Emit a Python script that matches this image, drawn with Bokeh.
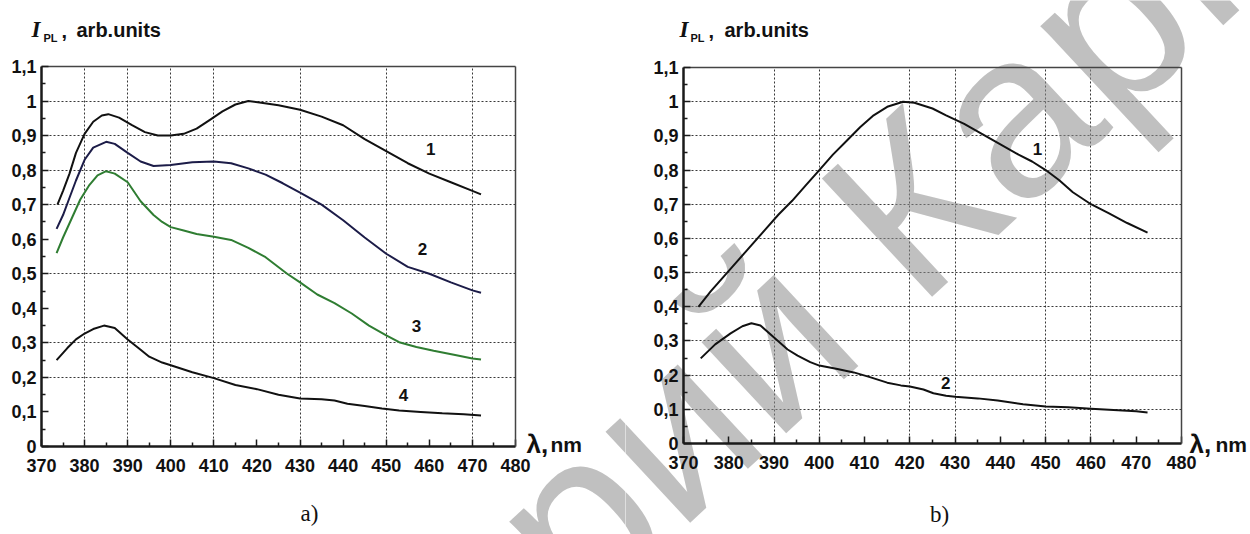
import math
from bokeh.plotting import figure
from bokeh.models import Label, FixedTicker, CustomJSTickFormatter, Range1d, LinearAxis
from bokeh.layouts import row
from bokeh.embed import file_html
from bokeh.resources import INLINE

# ---------------- data ----------------
x_tick_values = [370, 380, 390, 400, 410, 420, 430, 440, 450, 460, 470, 480]
x_tick_labels = ["370", "380", "390", "400", "410", "420", "430", "440", "450", "460", "470", "480"]
y_tick_values = [0, 0.1, 0.2, 0.3, 0.4, 0.5, 0.6, 0.7, 0.8, 0.9, 1.0, 1.1]
y_tick_labels = ["0", "0,1", "0,2", "0,3", "0,4", "0,5", "0,6", "0,7", "0,8", "0,9", "1", "1,1"]

grid_x_a = [380, 390, 400, 410, 430, 450, 470]
grid_y_a = [0.2, 0.3, 0.5, 0.7, 0.8, 0.9, 1.0]
grid_x_b = [390, 400, 420, 430, 450, 460]
grid_y_b = [0.1, 0.2, 0.3, 0.4, 0.5, 0.6, 0.7, 0.8, 0.9, 1.0]

# panel a
a1_x = [373.7, 375, 376.5, 378, 380, 382, 384, 385.5, 388, 391, 394, 397, 400, 403, 406, 409, 412, 415, 418, 421, 425, 430, 435, 440, 445, 450, 455, 460, 465, 470, 472]
a1_y = [0.70, 0.74, 0.79, 0.85, 0.905, 0.94, 0.958, 0.962, 0.952, 0.93, 0.91, 0.90, 0.90, 0.905, 0.92, 0.945, 0.97, 0.99, 1.0, 0.995, 0.988, 0.975, 0.955, 0.93, 0.89, 0.855, 0.82, 0.79, 0.765, 0.74, 0.73]

a2_x = [373.5, 375, 376.5, 378, 380, 382, 385, 387, 390, 393, 396, 400, 405, 410, 414, 418, 422, 426, 430, 435, 440, 445, 450, 455, 460, 465, 470, 472]
a2_y = [0.63, 0.67, 0.72, 0.77, 0.83, 0.865, 0.882, 0.876, 0.85, 0.825, 0.812, 0.815, 0.823, 0.825, 0.82, 0.805, 0.787, 0.762, 0.735, 0.70, 0.655, 0.605, 0.558, 0.52, 0.50, 0.475, 0.452, 0.445]

a3_x = [373.5, 375, 377, 379, 381, 383, 385, 387, 390, 393, 396, 398, 400, 403, 406, 410, 414, 418, 422, 427, 430, 434, 438, 442, 446, 450, 453, 457, 461, 466, 470, 472]
a3_y = [0.56, 0.605, 0.66, 0.715, 0.755, 0.785, 0.797, 0.79, 0.765, 0.71, 0.67, 0.65, 0.635, 0.625, 0.615, 0.607, 0.598, 0.575, 0.548, 0.50, 0.475, 0.44, 0.415, 0.385, 0.35, 0.322, 0.302, 0.288, 0.277, 0.265, 0.255, 0.252]

a4_x = [373.5, 376, 378, 380, 382, 384.5, 387, 390, 393, 395, 398, 400, 405, 410, 415, 420, 425, 430, 435, 438, 441, 445, 449, 453, 458, 463, 468, 472]
a4_y = [0.25, 0.285, 0.31, 0.327, 0.34, 0.35, 0.343, 0.31, 0.28, 0.26, 0.243, 0.235, 0.215, 0.198, 0.178, 0.166, 0.15, 0.139, 0.137, 0.133, 0.124, 0.117, 0.11, 0.104, 0.10, 0.096, 0.093, 0.09]

# panel b
b1_x = [373.3, 376, 380, 384, 388, 391, 394, 397, 400, 403, 406, 409, 412, 415, 418.5, 421, 425, 428, 432, 436, 440, 444, 447, 450, 453, 456, 460, 464, 468, 472.5]
b1_y = [0.40, 0.445, 0.505, 0.565, 0.625, 0.67, 0.71, 0.755, 0.80, 0.845, 0.885, 0.925, 0.96, 0.985, 1.0, 0.997, 0.98, 0.96, 0.935, 0.905, 0.875, 0.845, 0.825, 0.80, 0.77, 0.735, 0.70, 0.673, 0.645, 0.617]

b2_x = [373.8, 377, 380.4, 383, 385, 387, 390, 393, 395.2, 398, 400, 404, 407.6, 411, 415, 418, 420, 423, 425.2, 428, 430, 435, 439.4, 445, 450, 455, 460, 465, 470, 472.5]
b2_y = [0.249, 0.29, 0.322, 0.343, 0.352, 0.345, 0.31, 0.275, 0.257, 0.238, 0.228, 0.218, 0.208, 0.195, 0.178, 0.17, 0.167, 0.158, 0.147, 0.14, 0.137, 0.132, 0.126, 0.115, 0.108, 0.106, 0.102, 0.098, 0.094, 0.091]

curve_names_a = ["1", "2", "3", "4"]
curve_names_b = ["1", "2"]

SANS = "Liberation Sans"
SERIF = "Liberation Serif"

X_MIN, X_MAX = 370, 480
Y_MIN, Y_MAX = 0, 1.1
PAGE_H = 534


def conv(fl, fr, ft, fb):
    """page pixel -> data coordinates, given the page position of the axes box"""
    def f(px, py):
        return (X_MIN + (px - fl) * (X_MAX - X_MIN) / (fr - fl),
                Y_MIN + (fb - py) * (Y_MAX - Y_MIN) / (fb - ft))
    return f


def make_panel(x0, x1, box, gx, gy):
    fl, fr, ft, fb = box
    f = conv(fl, fr, ft, fb)
    xlo, yhi = f(x0, 0)
    xhi, ylo = f(x1, PAGE_H)
    p = figure(width=x1 - x0, height=PAGE_H,
               x_range=Range1d(xlo, xhi), y_range=Range1d(ylo, yhi),
               output_backend="svg", toolbar_location=None,
               min_border=0, min_border_left=0, min_border_right=0,
               min_border_top=0, min_border_bottom=0)
    p.title.visible = False
    p.background_fill_color = "white"
    p.border_fill_color = "white"
    p.outline_line_color = None

    fmt_code = """
        let best = 0, bd = 1e9;
        for (let i = 0; i < vals.length; i++) {
            const d = Math.abs(vals[i] - tick);
            if (d < bd) { bd = d; best = i; }
        }
        return labs[best];
    """
    p.xaxis.ticker = FixedTicker(ticks=x_tick_values,
                                 minor_ticks=[v + 5 for v in x_tick_values[:-1]])
    p.xaxis.formatter = CustomJSTickFormatter(args=dict(vals=x_tick_values, labs=x_tick_labels), code=fmt_code)
    p.yaxis.ticker = FixedTicker(ticks=y_tick_values,
                                 minor_ticks=[round(v + 0.05, 2) for v in y_tick_values[:-1]])
    p.yaxis.formatter = CustomJSTickFormatter(args=dict(vals=y_tick_values, labs=y_tick_labels), code=fmt_code)
    p.xaxis.fixed_location = Y_MIN
    p.xaxis.bounds = (X_MIN, X_MAX)
    p.yaxis.fixed_location = X_MIN
    p.yaxis.bounds = (Y_MIN, Y_MAX)

    for ax in (p.xaxis, p.yaxis):
        ax.major_tick_in = 7
        ax.major_tick_out = 0
        ax.minor_tick_in = 4
        ax.minor_tick_out = 0
        ax.axis_line_width = 2.5
        ax.axis_line_color = "#1a1a1a"
        ax.major_tick_line_color = "#1a1a1a"
        ax.minor_tick_line_color = "#1a1a1a"
        ax.major_tick_line_width = 1.5
        ax.minor_tick_line_width = 1.5
        ax.major_label_text_font = SANS
        ax.major_label_text_font_style = "bold"
        ax.major_label_text_font_size = "18px"
        ax.major_label_text_color = "#111111"
    p.xaxis.major_label_standoff = 12
    p.yaxis.major_label_standoff = 5

    # top and right edges of the box
    top = LinearAxis(fixed_location=Y_MAX, bounds=(X_MIN, X_MAX), ticker=FixedTicker(ticks=[]),
                     axis_line_color="#444444", axis_line_width=1.5)
    right = LinearAxis(fixed_location=X_MAX, bounds=(Y_MIN, Y_MAX), ticker=FixedTicker(ticks=[]),
                       axis_line_color="#444444", axis_line_width=1.5)
    p.add_layout(top, "above")
    p.add_layout(right, "right")

    p.xgrid.ticker = FixedTicker(ticks=gx)
    p.ygrid.ticker = FixedTicker(ticks=gy)
    p.xgrid.cross_bounds = (Y_MIN, Y_MAX)
    p.ygrid.cross_bounds = (X_MIN, X_MAX)
    for g in (p.xgrid, p.ygrid):
        g.grid_line_color = "#222222"
        g.grid_line_dash = "2 2"
        g.grid_line_width = 1
        g.grid_line_alpha = 0.9
    return p, f


def add_text(p, pos, text, font=SANS, size="18px", style="bold", align="left",
             baseline="middle", color="#111111", angle=0.0, alpha=1.0, level="annotation"):
    x, y = pos
    lab = Label(x=x, y=y, text=text, text_font=font, text_font_size=size,
                text_font_style=style, text_align=align, text_baseline=baseline,
                text_color=color, angle=angle, text_alpha=alpha, level=level)
    p.add_layout(lab)


def add_watermark(p, f):
    ang = math.radians(43)
    fs = 235
    ax, ay = 862, 250  # page position of the baseline start of "К"
    sp = 0.278 * fs
    bx, by = ax - sp * math.cos(ang), ay + sp * math.sin(ang)
    add_text(p, f(bx, by), "Репозиторий", font=SANS, size=f"{fs}px", style="normal",
             align="right", baseline="alphabetic", color="#8c8c8c", angle=ang, alpha=0.55,
             level="underlay")
    add_text(p, f(ax, ay), "КарГУ", font=SANS, size=f"{fs}px", style="normal",
             align="left", baseline="alphabetic", color="#8c8c8c", angle=ang, alpha=0.55,
             level="underlay")


# ---------------- panel a ----------------
pa, A = make_panel(0, 625, (41, 515, 66, 446), grid_x_a, grid_y_a)
add_watermark(pa, A)
pa.line(a1_x, a1_y, line_width=2, line_color="#111111")
pa.line(a2_x, a2_y, line_width=2, line_color="#1c1c48")
pa.line(a3_x, a3_y, line_width=2, line_color="#2f7d32")
pa.line(a4_x, a4_y, line_width=2, line_color="#111111")

for name, (x, y) in zip(curve_names_a, [(460.3, 0.86), (458.4, 0.573), (457.0, 0.35), (454.0, 0.148)]):
    add_text(pa, (x, y), name, size="17px", align="center")

add_text(pa, A(31, 29), "I", font=SERIF, size="23px", style="bold italic")
add_text(pa, A(43, 37), "PL", size="11px")
add_text(pa, A(61, 30), ",", size="20px")
add_text(pa, A(76, 29), "arb.units", size="20px")
add_text(pa, A(526, 443), "λ,", size="26px")
add_text(pa, A(550, 444), "nm", size="21px")
add_text(pa, A(309, 513), "a)", font=SERIF, size="23px", style="normal", align="center")

# ---------------- panel b ----------------
pb, B = make_panel(625, 1250, (683, 1181, 67, 443), grid_x_b, grid_y_b)
add_watermark(pb, B)
pb.line(b1_x, b1_y, line_width=2, line_color="#111111")
pb.line(b2_x, b2_y, line_width=2, line_color="#111111")

for name, (x, y) in zip(curve_names_b, [(448.2, 0.863), (427.9, 0.178)]):
    add_text(pb, (x, y), name, size="17px", align="center")

add_text(pb, B(679, 29), "I", font=SERIF, size="23px", style="bold italic")
add_text(pb, B(690, 37), "PL", size="11px")
add_text(pb, B(708, 30), ",", size="20px")
add_text(pb, B(724, 29), "arb.units", size="20px")
add_text(pb, B(1189, 443), "λ,", size="26px")
add_text(pb, B(1215, 444), "nm", size="21px")
add_text(pb, B(939, 514), "b)", font=SERIF, size="23px", style="normal", align="center")

layout = row(pa, pb)
open("out.html", "w").write(file_html(layout, INLINE))
